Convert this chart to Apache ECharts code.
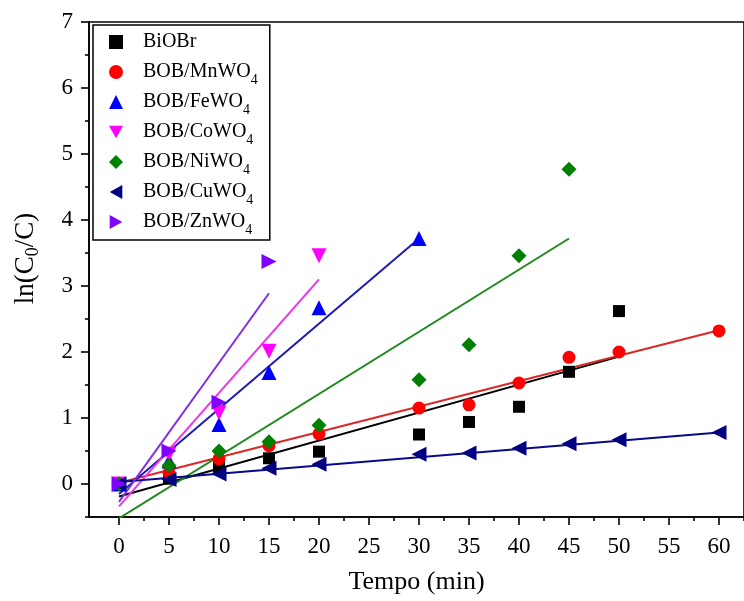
<!DOCTYPE html>
<html><head><meta charset="utf-8">
<script src="https://cdn.jsdelivr.net/npm/echarts@6/dist/echarts.min.js"></script>
<style>html,body{margin:0;padding:0;background:#fff}#c{width:744px;height:601px}</style>
</head><body><div id="c"></div>
<script>
const FONT = "'Liberation Serif','Times New Roman',serif";
const seriesNames = ['BiOBr','BOB/MnWO4','BOB/FeWO4','BOB/CoWO4','BOB/NiWO4','BOB/CuWO4','BOB/ZnWO4'];
const markerColors = ['#000000','#ff0000','#0000ff','#ff00ff','#008000','#000080','#8000ff'];
const lineColors = ['#000000','#d82828','#1c1cb0','#ee33ee','#1e8a1e','#0a0a88','#8030e0'];

const timeBiOBr = [0,5,10,15,20,30,35,40,45,50];
const valBiOBr  = [0,0.08,0.26,0.39,0.49,0.75,0.94,1.17,1.70,2.62];
const timeMn = [0,5,10,15,20,30,35,40,45,50,60];
const valMn  = [0,0.17,0.38,0.58,0.76,1.15,1.20,1.53,1.92,2.00,2.32];
const timeFe = [0,5,10,15,20,30];
const valFe  = [0,0.35,0.90,1.69,2.67,3.72];
const timeCo = [0,5,10,15,20];
const valCo  = [0,0.45,1.08,2.01,3.46];
const timeNi = [0,5,10,15,20,30,35,40,45];
const valNi  = [0,0.28,0.50,0.64,0.89,1.58,2.11,3.46,4.77];
const timeCu = [0,5,10,15,20,30,35,40,45,50,60];
const valCu  = [0,0.07,0.15,0.24,0.30,0.45,0.47,0.54,0.61,0.67,0.78];
const timeZn = [0,5,10,15];
const valZn  = [0,0.50,1.24,3.37];

// linear fit lines: [[x start, y start],[x end, y end]]
const fitBiOBr = [[0,-0.19],[50,1.93]];
const fitMn    = [[0,0.02],[60,2.33]];
const fitFe    = [[0,-0.15],[30,3.72]];
const fitCo    = [[0,-0.34],[20,3.10]];
const fitNi    = [[0,-0.52],[45,3.72]];
const fitCu    = [[0,0.03],[60,0.78]];
const fitZn    = [[0,-0.27],[15,2.89]];

const xMajorTicks = [0,5,10,15,20,25,30,35,40,45,50,55,60];
const xMinorTicks = [2.5,7.5,12.5,17.5,22.5,27.5,32.5,37.5,42.5,47.5,52.5,57.5,62.5];
const yMajorTicks = [0,1,2,3,4,5,6,7];
const yMinorTicks = [-0.5,0.5,1.5,2.5,3.5,4.5,5.5,6.5];

const times = [timeBiOBr,timeMn,timeFe,timeCo,timeNi,timeCu,timeZn];
const vals = [valBiOBr,valMn,valFe,valCo,valNi,valCu,valZn];
const fits = [fitBiOBr,fitMn,fitFe,fitCo,fitNi,fitCu,fitZn];
const symbols = ['rect','circle','triangle','path://M0,0L10,0L5,9Z','diamond','path://M0,5L9,0L9,10Z','path://M0,0L9,5L0,10Z'];
const sizes = [12,13,15,15,15,15,15];

const series = [];
fits.forEach((f,i)=>{
  series.push({type:'line', name:'fit'+i, data:f, showSymbol:false, symbol:'none',
    lineStyle:{color:lineColors[i], width:2}, z:2, silent:true, clip:true});
});
vals.forEach((v,i)=>{
  series.push({type:'scatter', name:seriesNames[i], data:v.map((y,k)=>[times[i][k],y]),
    symbol:symbols[i], symbolSize:sizes[i], itemStyle:{color:markerColors[i], opacity:1}, z:5});
});

const axisLineStyle = {color:'#000', width:1.6};
const chart = echarts.init(document.getElementById('c'), null, {renderer:'canvas'});
chart.setOption({
  animation:false,
  backgroundColor:'#fff',
  grid:{left:89, top:22, right:-3, bottom:84, show:true, borderColor:'#000', borderWidth:1.6, backgroundColor:'transparent'},
  legend:{
    data:seriesNames, left:93, top:25, orient:'vertical', padding:[2,12,3,16],
    itemWidth:14, itemHeight:14, itemGap:0,
    backgroundColor:'#fff', borderColor:'#000', borderWidth:1.5,
    formatter:n=>n.replace(/(\d)$/,'{sub|$1}'),
    textStyle:{fontFamily:FONT, fontSize:20, color:'#000', lineHeight:30, padding:[0,0,0,15],
      rich:{sub:{fontFamily:FONT, fontSize:14, color:'#000', lineHeight:14, padding:[16,0,0,0]}}}
  },
  xAxis:[{
    type:'value', min:-3, max:62.5, position:'bottom',
    axisLine:{show:true, onZero:false, lineStyle:axisLineStyle},
    axisTick:{show:true, customValues:xMajorTicks, length:8, lineStyle:axisLineStyle},
    axisLabel:{customValues:xMajorTicks, fontFamily:FONT, fontSize:23, color:'#000', margin:18},
    splitLine:{show:false},
    name:'Tempo (min)', nameLocation:'middle', nameGap:52,
    nameTextStyle:{fontFamily:FONT, fontSize:26, color:'#000'}
  },{
    type:'value', min:-3, max:62.5, position:'bottom',
    axisLine:{show:false, onZero:false},
    axisTick:{show:true, customValues:xMinorTicks, length:4, lineStyle:axisLineStyle},
    axisLabel:{show:false}, splitLine:{show:false}
  }],
  yAxis:[{
    type:'value', min:-0.5, max:7, position:'left',
    axisLine:{show:true, onZero:false, lineStyle:axisLineStyle},
    axisTick:{show:true, customValues:yMajorTicks, length:8, lineStyle:axisLineStyle},
    axisLabel:{customValues:yMajorTicks, fontFamily:FONT, fontSize:23, color:'#000', margin:16},
    splitLine:{show:false},
    name:'ln(C{sub|0}/C)', nameLocation:'middle', nameGap:47, nameRotate:90,
    nameTextStyle:{fontFamily:FONT, fontSize:27, color:'#000', lineHeight:32, padding:[0,0,0,22],
      rich:{sub:{fontFamily:FONT, fontSize:18, color:'#000', lineHeight:18, padding:[14,0,0,0]}}}
  },{
    type:'value', min:-0.5, max:7, position:'left',
    axisLine:{show:false, onZero:false},
    axisTick:{show:true, customValues:yMinorTicks, length:4, lineStyle:axisLineStyle},
    axisLabel:{show:false}, splitLine:{show:false}
  }],
  series:series
});
</script>
</body></html>
